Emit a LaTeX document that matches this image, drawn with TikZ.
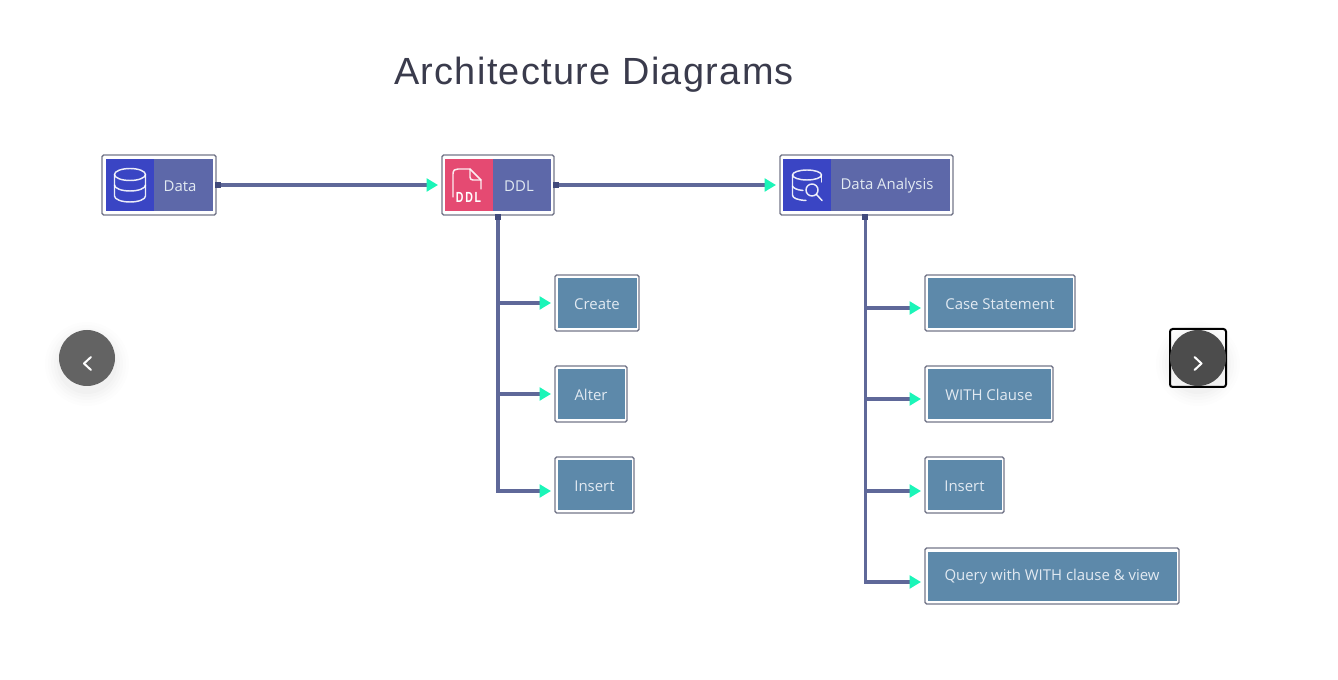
\documentclass[tikz,border=0pt]{standalone}
\usepackage{fontspec}
\setmainfont{Liberation Sans}
\newfontfamily\boxfont{Open Sans}
\newfontfamily\titlefont[LetterSpace=3.5]{Liberation Sans}
\usetikzlibrary{arrows.meta}
\definecolor{linec}{HTML}{5F6899}
\definecolor{tipc}{HTML}{1BF5B8}
\definecolor{framec}{HTML}{74778A}
\definecolor{leafc}{HTML}{5D89AA}
\definecolor{mainc}{HTML}{5D68A9}
\definecolor{bluec}{HTML}{3A45C4}
\definecolor{pinkc}{HTML}{E54A72}
\definecolor{sqc}{HTML}{414A7C}
\definecolor{txtc}{HTML}{E2EAF2}
\definecolor{titlec}{HTML}{3A3B4C}
\tikzset{
  x=0.75pt,y=-0.75pt,
  frame/.style={draw=framec,line width=1pt,fill=white,rounded corners=1.2pt,inner sep=0pt,outer sep=0pt},
  label/.style={font=\boxfont\fontsize{11.2pt}{13pt}\selectfont,text=txtc,inner sep=0pt},
  conn/.style={draw=linec,line width=2.3pt,-{Triangle[length=8.5pt,width=9.5pt,color=tipc]},shorten >=3pt},
  stub/.style={fill=sqc,minimum size=4.5pt,inner sep=0pt,draw=none},
  icon/.style={draw=white,line width=1.1pt,line cap=round,line join=round,opacity=.9},
}
\newcommand{\leaf}[6]{% name, x0, x1, y0, y1, text
  \pgfmathsetlengthmacro{\boxw}{(#3-#2)*0.75pt}
  \pgfmathsetlengthmacro{\boxh}{(#5-#4)*0.75pt}
  \node[frame,minimum width=\boxw,minimum height=\boxh] (#1) at ({(#2+#3)/2},{(#4+#5)/2}) {};
  \fill[leafc] (#2+3,#4+3.5) rectangle (#3-2.5,#5-3);
  \node[label] (#1t) at ({(#2+#3)/2},{(#4+#5)/2+1}) {#6};
}
\begin{document}
\begin{tikzpicture}
\useasboundingbox (0,0) rectangle (1338,680);
\fill[white] (0,0) rectangle (1338,680);
\node[font=\titlefont\fontsize{28.4pt}{32pt}\selectfont,text=titlec,inner sep=0pt] (title) at (594,75) {Architecture Diagrams};

% main nodes
\node[frame,minimum height=45pt,minimum width=85.5pt] (data) at (159,185) {};
\fill[mainc] (106,159) rectangle (213,211);
\fill[bluec] (106,159) rectangle (154,211);
\node[label] (datat) at (180,186) {Data};

\node[frame,minimum height=45pt,minimum width=84pt] (ddl) at (498,185) {};
\fill[mainc] (445,159) rectangle (551,211);
\fill[pinkc] (445,159) rectangle (493,211);
\node[label] (ddlt) at (519,186) {DDL};

\node[frame,minimum height=45pt,minimum width=129.75pt] (analysis) at (866.5,185) {};
\fill[mainc] (783,159) rectangle (950,211);
\fill[bluec] (783,159) rectangle (831,211);
\node[label] (analysist) at (887,186) {Data Analysis};

% icons
\begin{scope}[icon]
  \draw (130,174.5) ellipse (15.5 and 6);
  \draw (114.5,174.5) -- (114.5,196) arc[start angle=180,end angle=0,x radius=15.5,y radius=6] -- (145.5,174.5);
  \draw (114.5,185) arc[start angle=180,end angle=0,x radius=15.5,y radius=6];
  \draw (453,197) -- (453,174) .. controls (453,170) and (455,169) .. (458,169) -- (470,169) -- (481,180) -- (481,189);
  \draw (470,169) -- (470,177) .. controls (470,179) and (471,180) .. (473,180) -- (481,180);
  \draw (807,175) ellipse (14.5 and 5);
  \draw (792.5,175) -- (792.5,195) .. controls (792.5,198) and (797,200) .. (806,200.5);
  \draw (792.5,186) .. controls (793,188) and (797,190) .. (803,190.5);
  \draw (821.5,175) -- (821.5,182);
  \draw (812,190) circle (6);
  \draw (816.5,194.5) -- (822,200.5);
\end{scope}
\node[font=\fontsize{11pt}{12pt}\selectfont\bfseries,text=white,inner sep=0pt,xscale=.72] (ddlicon) at (468.5,197.5) {D\,D\,L};

% leaves
\leaf{create}{555}{639}{275}{331}{Create}
\leaf{alter}{555}{627}{366}{422}{Alter}
\leaf{insa}{555}{634}{457}{513}{Insert}
\leaf{casest}{925}{1075}{275}{331}{Case Statement}
\leaf{withc}{925}{1053}{366}{422}{WITH Clause}
\leaf{insb}{925}{1004}{457}{513}{Insert}
\leaf{query}{925}{1179}{548}{604}{Query with WITH clause \& view}

% connectors
\draw[conn] (data.east) -- (ddl.west);
\draw[conn] (ddl.east) -- (analysis.west);
\draw[conn] (ddl.south) |- (create.west);
\draw[conn] (ddl.south) |- (alter.west);
\draw[conn] (ddl.south) |- ([yshift=-4.5pt]insa.west);
\coordinate (trunk) at ([xshift=-1.1pt]analysis.south);
\draw[conn] (trunk) |- ([yshift=-3.75pt]casest.west);
\draw[conn] (trunk) |- ([yshift=-3.75pt]withc.west);
\draw[conn] (trunk) |- ([yshift=-4.5pt]insb.west);
\draw[conn] (trunk) |- ([yshift=-4.5pt]query.west);
\node[stub] (s1) at ([xshift=1.5pt]data.east) {};
\node[stub] (s2) at ([xshift=1.5pt]ddl.east) {};
\node[stub] (s3) at ([yshift=-1.5pt]ddl.south) {};
\node[stub] (s4) at ([yshift=-1.5pt]trunk) {};

% carousel buttons
\foreach \r/\o in {42/.006,39/.008,36/.01,33/.012,30/.015}{
  \fill[black,opacity=\o] (87,364) circle (\r);
  \fill[black,opacity=\o] (1198,364) circle (\r);
}
\node[circle,fill=black!61,minimum size=42pt,inner sep=0pt] (prev) at (87,358) {};
\draw[black,line width=1.5pt,rounded corners=2pt] (1170,329) rectangle (1226,387);
\node[circle,fill=black!70,minimum size=42pt,inner sep=0pt] (next) at (1198,358) {};
\draw[white,line width=1.5pt,line cap=round,line join=round] (91,357) -- (84,363.5) -- (91,370);
\draw[white,line width=1.5pt,line cap=round,line join=round] (1194.5,357) -- (1201.5,363.5) -- (1194.5,370);
\end{tikzpicture}
\end{document}
